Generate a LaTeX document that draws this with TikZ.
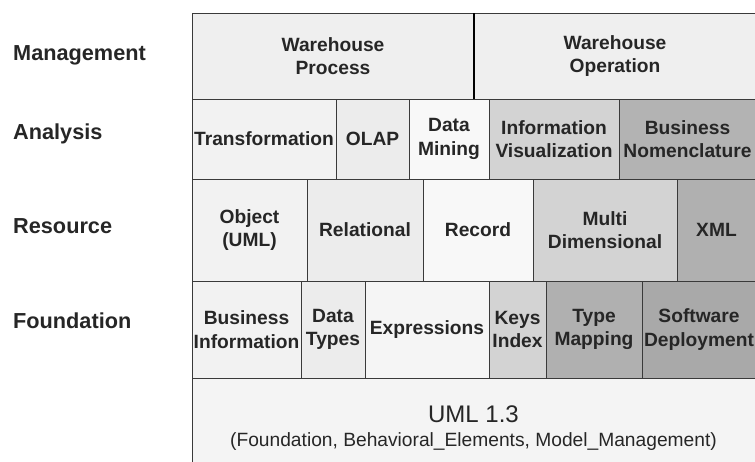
\documentclass[tikz,border=0pt]{standalone}
\usepackage{fontspec}
\setmainfont{Liberation Sans}
\definecolor{cA}{HTML}{EFEFEF}
\definecolor{cB}{HTML}{F2F2F2}
\definecolor{cC}{HTML}{ECECEC}
\definecolor{cD}{HTML}{F8F8F8}
\definecolor{cE}{HTML}{D3D3D3}
\definecolor{cF}{HTML}{B3B3B3}
\definecolor{cG}{HTML}{B0B0B0}
\definecolor{cH}{HTML}{A9A9A9}
\definecolor{cI}{HTML}{F5F5F5}
\definecolor{cU}{HTML}{F4F4F4}
\definecolor{edge}{HTML}{3A3A3A}
\begin{document}
\begin{tikzpicture}[x=1pt,y=-1pt,
  cell/.style={draw=edge,line width=1pt,anchor=north west,inner sep=0pt,outer sep=0pt,
    align=center,font=\bfseries\fontsize{19.2}{23.5}\selectfont,text=black!85},
  layer/.style={anchor=base west,inner sep=0pt,font=\bfseries\fontsize{21.7}{24}\selectfont,text=black!85}]
\useasboundingbox (0,0) rectangle (755,461);
\clip (0,0) rectangle (755,461);
% layer labels
\node[layer] (lm) at (13,60.7) {Management};
\node[layer] (la) at (13,139.3) {Analysis};
\node[layer] (lr) at (13,233.3) {Resource};
\node[layer] (lf) at (13,328.3) {Foundation};
% management
\node[cell,fill=cA,minimum width=282pt,minimum height=86pt] (wp) at (192,13) {Warehouse\\Process};
\node[cell,fill=cA,minimum width=282pt,minimum height=86pt] (wo) at (474,13) {Warehouse\\Operation};
\draw[line width=2pt,black] (wp.north east) -- (wp.south east);
% analysis
\node[cell,fill=cB,minimum width=144pt,minimum height=80pt] (tr) at (192,99) {Transformation};
\node[cell,fill=cC,minimum width=73pt,minimum height=80pt] (olap) at (336,99) {OLAP};
\node[cell,fill=cD,minimum width=80pt,minimum height=80pt] (dm) at (409,99) {Data\\Mining};
\node[cell,fill=cE,minimum width=130pt,minimum height=80pt] (iv) at (489,99) {Information\\Visualization};
\node[cell,fill=cF,minimum width=137pt,minimum height=80pt] (bn) at (619,99) {Business\\Nomenclature};
% resource
\node[cell,fill=cB,minimum width=115pt,minimum height=102pt] (obj) at (192,179) {Object\\(UML)};
\node[cell,fill=cC,minimum width=116pt,minimum height=102pt] (rel) at (307,179) {Relational};
\node[cell,fill=cD,minimum width=110pt,minimum height=102pt] (rec) at (423,179) {Record};
\node[cell,fill=cE,minimum width=144pt,minimum height=102pt] (md) at (533,179) {Multi\\Dimensional};
\node[cell,fill=cG,minimum width=79pt,minimum height=102pt] (xml) at (677,179) {XML};
% foundation
\node[cell,fill=cB,minimum width=109pt,minimum height=97pt] (bi) at (192,281) {Business\\Information};
\node[cell,fill=cC,minimum width=64pt,minimum height=97pt] (dt) at (301,281) {Data\\Types};
\node[cell,fill=cI,minimum width=124pt,minimum height=97pt] (ex) at (365,281) {Expressions};
\node[cell,fill=cE,minimum width=57pt,minimum height=97pt] (ki) at (489,281) {Keys\\Index};
\node[cell,fill=cG,minimum width=96pt,minimum height=97pt] (tm) at (546,281) {Type\\Mapping};
\node[cell,fill=cH,minimum width=114pt,minimum height=97pt] (sd) at (642,281) {Software\\Deployment};
% UML base
\node[cell,fill=cU,minimum width=564pt,minimum height=88pt] (uml) at (192,378) {};
\node[anchor=base,inner sep=0pt,font=\fontsize{24}{28}\selectfont,text=black!85] (umlt) at (473.5,422.7) {UML 1.3};
\node[anchor=base,inner sep=0pt,font=\fontsize{19.2}{22}\selectfont,text=black!85] (umls) at (473.5,446) {(Foundation, Behavioral\_Elements, Model\_Management)};
\end{tikzpicture}
\end{document}
